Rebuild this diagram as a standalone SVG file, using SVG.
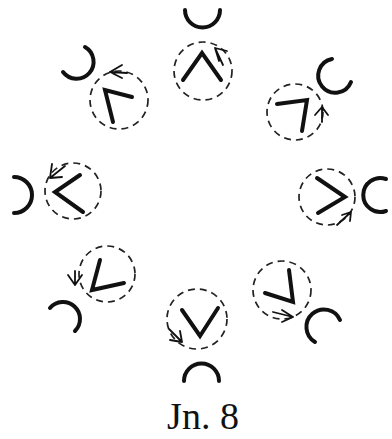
<svg xmlns="http://www.w3.org/2000/svg" width="392" height="439" viewBox="0 0 392 439">
<style>
.dash{fill:none;stroke:#222;stroke-width:1.7;stroke-dasharray:7 5}
.thick{fill:none;stroke:#111;stroke-width:4;stroke-linecap:round;stroke-linejoin:miter}
.arr{fill:none;stroke:#111;stroke-width:1.8;stroke-linecap:round;stroke-linejoin:round}
.lbl{font-family:"Liberation Serif","Times New Roman",serif;font-size:38px;fill:#111}
</style>
<rect width="392" height="439" fill="#fff"/>
<g id="unit-top">
<circle class="dash" cx="203" cy="71" r="29"/>
<path class="thick" d="M183 80 L202 53 L221 80"/>
<path class="thick" d="M185 10 A17.5 17.5 0 1 0 220 10"/>
<path class="arr" d="M223 65 L215 48 M215 48 L227 51 M215 48 L219 61"/>
</g>
<g id="unit-upper-right">
<circle class="dash" cx="295" cy="112" r="28"/>
<path class="thick" d="M277 104 L307 100 L302 131"/>
<path class="thick" d="M332 59 A17 17 0 1 0 351 82"/>
<path class="arr" d="M322 122 L322 107 M322 107 L315 115 M322 107 L328 115"/>
</g>
<g id="unit-right">
<circle class="dash" cx="327" cy="197" r="28"/>
<path class="thick" d="M317 178 L345 197 L318 213"/>
<path class="thick" d="M386 179 A17 17 0 1 0 386 211"/>
<path class="arr" d="M337 225 L351 212 M351 212 L342 215 M351 212 L350 221"/>
</g>
<g id="unit-lower-right">
<circle class="dash" cx="282" cy="290" r="29"/>
<path class="thick" d="M289 270 L293 302 L265 293"/>
<path class="thick" d="M340 320 A17.5 17.5 0 1 0 315 342"/>
<path class="arr" d="M273 312 L293 317 M293 317 L282 310 M293 317 L282 322"/>
</g>
<g id="unit-bottom">
<circle class="dash" cx="197" cy="319" r="30"/>
<path class="thick" d="M182 310 L200 336 L218 308"/>
<path class="thick" d="M184 381 A17.5 17.5 0 1 1 219 381"/>
<path class="arr" d="M169 329 L182 342 M182 342 L170 340 M182 342 L180 331"/>
</g>
<g id="unit-lower-left">
<circle class="dash" cx="107" cy="274" r="28"/>
<path class="thick" d="M100 260 L92 290 L124 283"/>
<path class="thick" d="M50 308 A17 17 0 1 1 75 331"/>
<path class="arr" d="M75 271 L75 285 M75 285 L68 275 M75 285 L82 275"/>
</g>
<g id="unit-left">
<circle class="dash" cx="73" cy="191" r="28"/>
<path class="thick" d="M80 175 L55 192 L83 212"/>
<path class="thick" d="M14 177 A17 17 0 1 1 14 213"/>
<path class="arr" d="M65 166 L50 178 M50 178 L52 164 M50 178 L62 177"/>
</g>
<g id="unit-upper-left">
<circle class="dash" cx="119" cy="100" r="29"/>
<path class="thick" d="M132 97 L105 90 L113 122"/>
<path class="thick" d="M85 47 A17 17 0 1 1 63 72"/>
<path class="arr" d="M127 73 L110 72 M110 72 L122 65 M110 72 L122 78"/>
</g>
<text class="lbl" x="203" y="429" text-anchor="middle">Jn. 8</text>
</svg>
